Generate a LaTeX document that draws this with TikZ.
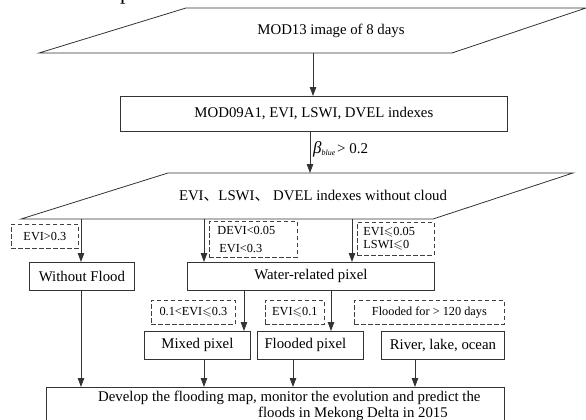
\documentclass[tikz,border=0pt]{standalone}
\usepackage{fontspec}
\usepackage{amssymb}
\setmainfont{Liberation Serif}
\newfontfamily\cjk{Noto Sans CJK SC}
\usetikzlibrary{arrows.meta}
\begin{document}
\begin{tikzpicture}[x=1pt,y=-1pt,
  line/.style={draw=black!80, line width=0.8pt},
  arr/.style={line, -{Triangle[length=9pt,width=6.5pt]}},
  box/.style={line, rectangle, inner sep=0pt, anchor=north west, font=\fontsize{14.8}{16}\selectfont},
  dbox/.style={draw=black!75, line width=0.8pt, dash pattern=on 4.5pt off 2.5pt, rectangle, inner sep=0pt, anchor=north west, font=\fontsize{12.3}{14}\selectfont},
  main/.style={font=\fontsize{14.8}{16}\selectfont, inner sep=0pt},
]
\useasboundingbox (0,0) rectangle (586,420);
% cut-off fragment at top
\node[font=\fontsize{22}{22}\selectfont, anchor=base west, inner sep=0pt] (frag) at (120,-0.5) {p};
% top parallelogram
\draw[line] (39,53) coordinate (p1bl) -- (452,53) coordinate (p1br) -- (586,8) coordinate (p1tr) -- (186,8) coordinate (p1tl) -- cycle;
\node[main] (t1) at (331,31) {MOD13 image of 8 days};
\coordinate (p1out) at (313,53);
\node[box, minimum width=387pt, minimum height=35pt] (b2) at (120,96) {MOD09A1, EVI, LSWI, DVEL indexes};
\draw[arr] (p1out) -- (p1out |- b2.north);
% second parallelogram
\draw[line] (21,219) coordinate (p2bl) -- (433,219) coordinate (p2br) -- (573,173) coordinate (p2tr) -- (168,173) coordinate (p2tl) -- cycle;
\node[main] (t2) at (313,196) {EVI{\cjk 、}LSWI{\cjk 、} DVEL indexes without cloud};
\coordinate (bx) at (310,173);
\draw[arr] (b2.south -| bx) -- (bx);
\node[anchor=west, inner sep=0pt] (beta) at (313,149) {{\fontsize{17}{17}\selectfont\itshape β}{\fontsize{8}{8}\selectfont\raisebox{-2.5pt}{\itshape blue}}\,{\fontsize{15}{16}\selectfont > 0.2}};
% second row
\node[box, minimum width=105pt, minimum height=28pt] (wf) at (29,262) {Without Flood};
\node[box, minimum width=247pt, minimum height=28pt] (wr) at (187,262) {Water-related pixel};
\coordinate (q1) at (81,219);
\coordinate (q2) at (204,219);
\coordinate (q3) at (352,219);
\draw[arr] (q1) -- (q1 |- wf.north);
\draw[arr] (q2) -- (q2 |- wr.north);
\draw[arr] (q3) -- (q3 |- wr.north);
\node[dbox, minimum width=67pt, minimum height=24pt] (c1) at (11,224) {EVI>0.3};
\node[dbox, minimum width=88pt, minimum height=36pt, text width=72pt, inner xsep=8pt, align=left, font=\fontsize{12.3}{18}\selectfont] (c2) at (209,221) {DEVI<0.05\\\hspace*{2pt}EVI<0.3};
\node[dbox, minimum width=77pt, minimum height=33pt, text width=65pt, inner xsep=6pt, align=left, font=\fontsize{12.3}{13.5}\selectfont] (c3) at (357,222) {EVI\ensuremath{\leqslant}0.05\\LSWI\ensuremath{\leqslant}0};
% third row
\node[box, minimum width=106pt, minimum height=28pt] (mx) at (144,331) {Mixed pixel};
\node[box, minimum width=106pt, minimum height=28pt] (fl) at (257,331) {Flooded pixel\hspace*{10pt}};
\node[box, minimum width=123pt, minimum height=28pt] (rv) at (381,331) {River, lake, ocean};
\coordinate (r1) at (244,300);
\coordinate (r2) at (331,300);
\draw[arr] (wr.south -| r1) -- (mx.north -| r1);
\draw[arr] (wr.south -| r2) -- (fl.north -| r2);
\node[dbox, minimum width=84pt, minimum height=24pt] (c4) at (151,300) {0.1<EVI\ensuremath{\leqslant}0.3};
\node[dbox, minimum width=59pt, minimum height=24pt] (c5) at (265,300) {EVI\ensuremath{\leqslant}0.1};
\node[dbox, minimum width=150pt, minimum height=24pt] (c6) at (354,300) {Flooded for > 120 days};
% final box
\node[box, minimum width=458pt, minimum height=45pt] (fin) at (46,387) {};
\node[inner sep=0pt, anchor=north west, align=left, font=\fontsize{14.8}{16}\selectfont] (ft) at (98,391) {Develop the flooding map, monitor the evolution and predict the\\\hspace*{160pt}floods in Mekong Delta in 2015};
\coordinate (s1) at (204,359);
\coordinate (s2) at (293,359);
\coordinate (s3) at (415,359);
\draw[arr] (wf.south -| q1) -- (fin.north -| q1);
\draw[arr] (s1) -- (s1 |- fin.north);
\draw[arr] (s2) -- (s2 |- fin.north);
\draw[arr] (s3) -- (s3 |- fin.north);
\end{tikzpicture}
\end{document}
